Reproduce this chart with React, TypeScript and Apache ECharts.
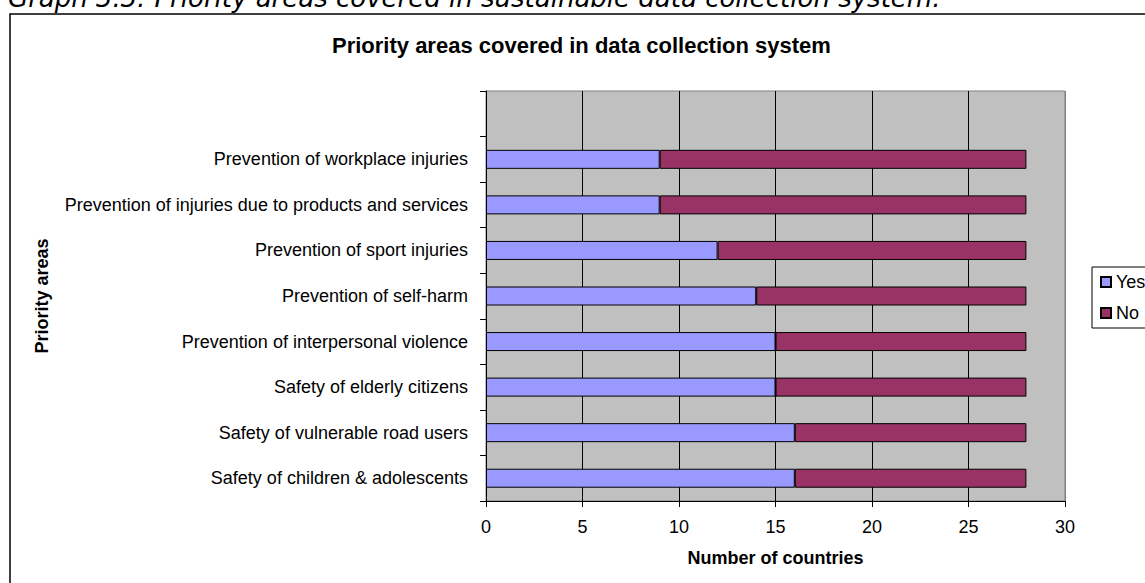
import React, { useEffect, useRef } from "react";
import * as echarts from "echarts";

// Priority areas, listed top to bottom
const categories = [
  "Prevention of workplace injuries",
  "Prevention of injuries due to products and services",
  "Prevention of sport injuries",
  "Prevention of self-harm",
  "Prevention of interpersonal violence",
  "Safety of elderly citizens",
  "Safety of vulnerable road users",
  "Safety of children & adolescents",
];

// Number of countries covering (Yes) / not covering (No) each area
const yesValues = [9, 9, 12, 14, 15, 15, 16, 16];
const noValues = [19, 19, 16, 14, 13, 13, 12, 12];

const xTicks = [0, 5, 10, 15, 20, 25, 30];

const FONT = '"Liberation Sans", Arial, sans-serif';

export default function App() {
  const ref = useRef<HTMLDivElement>(null);

  useEffect(() => {
    if (!ref.current) return;
    const chart = echarts.init(ref.current, null, { renderer: "svg" });

    // one empty slot above the first area, as in the original layout
    const axisCats = ["", ...categories];
    const yesData: (number | string)[] = ["-", ...yesValues];
    const noData: (number | string)[] = ["-", ...noValues];

    // vertical grid lines: black inside, grey at the right edge of the plot
    const splitColors = xTicks.map((_, i) => (i === xTicks.length - 1 ? "#808080" : "#000000"));

    chart.setOption({
      animation: false,
      backgroundColor: "#ffffff",
      textStyle: { fontFamily: FONT, color: "#000" },
      title: {
        text: "Priority areas covered in data collection system",
        left: 332,
        top: 34,
        padding: 0,
        textStyle: { fontFamily: FONT, fontSize: 22, fontWeight: "bold", color: "#000" },
      },
      legend: {
        orient: "vertical",
        left: 1092,
        top: 267,
        padding: [6, 40, 6, 8],
        itemWidth: 10,
        itemHeight: 10,
        itemGap: 13,
        icon: "rect",
        borderColor: "#000",
        borderWidth: 1,
        backgroundColor: "#fff",
        textStyle: { fontFamily: FONT, fontSize: 18, color: "#000" },
        data: ["Yes", "No"],
      },
      grid: {
        left: 486,
        right: 80,
        top: 91,
        bottom: 82,
        show: true,
        backgroundColor: "#C0C0C0",
        borderWidth: 1,
        borderColor: "#808080",
      },
      xAxis: {
        type: "value",
        min: 0,
        max: 30,
        interval: 5,
        name: "Number of countries",
        nameLocation: "middle",
        nameGap: 48,
        nameTextStyle: { fontFamily: FONT, fontSize: 18, fontWeight: "bold", color: "#000" },
        axisLine: { show: true, lineStyle: { color: "#000", width: 1 } },
        axisTick: { show: true, length: 6, lineStyle: { color: "#000" } },
        axisLabel: { fontFamily: FONT, fontSize: 18, color: "#000", margin: 17 },
        splitLine: { show: true, lineStyle: { color: splitColors, width: 1 } },
      },
      yAxis: {
        type: "category",
        inverse: true,
        data: axisCats,
        name: "Priority areas",
        nameLocation: "middle",
        nameRotate: 90,
        nameGap: 435,
        nameTextStyle: { fontFamily: FONT, fontSize: 18, fontWeight: "bold", color: "#000" },
        axisLine: { show: true, lineStyle: { color: "#000", width: 1 } },
        axisTick: { show: true, length: 6, lineStyle: { color: "#000" } },
        axisLabel: { fontFamily: FONT, fontSize: 18, color: "#000", margin: 18 },
        splitLine: { show: false },
      },
      series: [
        {
          name: "Yes",
          type: "bar",
          stack: "total",
          barWidth: 19,
          data: yesData,
          itemStyle: { color: "#9999FF", borderColor: "#000", borderWidth: 1 },
        },
        {
          name: "No",
          type: "bar",
          stack: "total",
          barWidth: 19,
          data: noData,
          itemStyle: { color: "#993366", borderColor: "#000", borderWidth: 1 },
        },
      ],
      graphic: [
        {
          type: "rect",
          shape: { x: 10, y: 14, width: 1300, height: 700 },
          style: { fill: "none", stroke: "#000", lineWidth: 1.5 },
          silent: true,
        },
        {
          type: "text",
          x: 8,
          y: 11,
          style: {
            text: "Graph 3.3: Priority areas covered in sustainable data collection system.",
            font: 'italic 26px "DejaVu Sans", Verdana, sans-serif',
            fill: "#000",
            verticalAlign: "bottom",
          },
          silent: true,
        },
      ],
    });

    return () => chart.dispose();
  }, []);

  return (
    <div
      ref={ref}
      style={{ position: "fixed", left: 0, top: 0, width: 1145, height: 583 }}
    />
  );
}
